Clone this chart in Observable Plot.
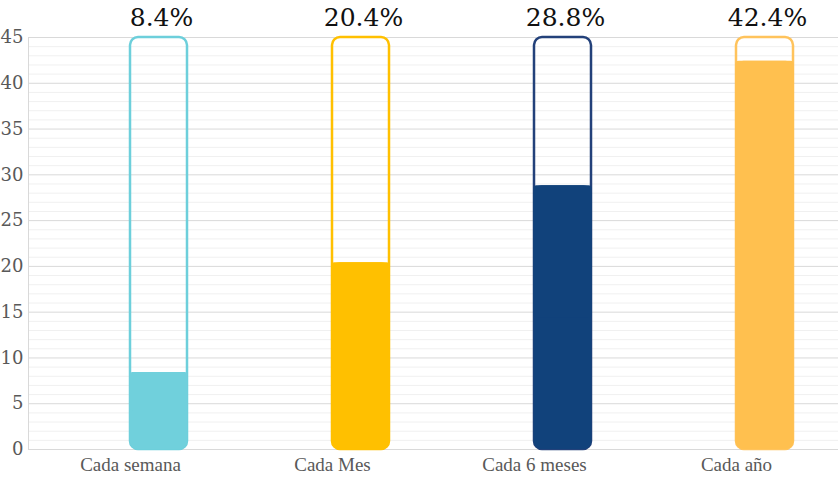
<!DOCTYPE html>
<html>
<head>
<meta charset="utf-8">
<script src="https://cdn.jsdelivr.net/npm/d3@7"></script>
<script src="https://cdn.jsdelivr.net/npm/@observablehq/plot@0.6"></script>
<style>
  html, body { margin: 0; padding: 0; background: #fff; }
  svg text { font-variant: normal !important; }
</style>
</head>
<body>
<div id="chart"></div>
<script>
const categories = ["Cada semana", "Cada Mes", "Cada 6 meses", "Cada año"];
const values = [8.4, 20.4, 28.8, 42.4];
const fills = ["#70d0dc", "#ffc000", "#11427b", "#ffc04f"];
const strokes = ["#6dcfdb", "#ffc000", "#23417a", "#ffc35c"];
const yTicks = [0, 5, 10, 15, 20, 25, 30, 35, 40, 45];
const yMax = 45;

const data = categories.map((c, i) => ({cat: c, value: values[i], fill: fills[i], stroke: strokes[i]}));
const minor = d3.range(0, yMax + 1).filter(v => v % 5 !== 0);

const chart = Plot.plot({
  width: 838,
  height: 478,
  marginTop: 37,
  marginBottom: 29,
  marginLeft: 28,
  marginRight: 0,
  style: {background: "#fff", fontFamily: "Liberation Serif, serif"},
  x: {domain: categories, padding: 0, label: null},
  y: {domain: [0, yMax], label: null},
  marks: [
    Plot.ruleY(minor, {stroke: "#f0f0f0", strokeWidth: 1}),
    Plot.ruleY(yTicks, {stroke: "#d9d9d9", strokeWidth: 1}),
    Plot.frame({anchor: "left", stroke: "#d9d9d9"}),
    Plot.barY(data, {x: "cat", y1: 0, y2: yMax, fill: "none", stroke: d => d.stroke, strokeWidth: 2.5, rx: 8, insetLeft: 72.5, insetRight: 72.5, dx: 28.5}),
    Plot.barY(data, {x: "cat", y1: 0, y2: "value", fill: d => d.fill, rx: 8, insetLeft: 72, insetRight: 72, dx: 28.5}),
    Plot.barY(data, {x: "cat", y1: d => d.value / 2, y2: "value", fill: d => d.fill, rx: 3, insetLeft: 72, insetRight: 72, dx: 28.5}),
    Plot.text(data, {x: "cat", y: yMax, text: d => d.value.toFixed(1) + "%", dy: -20, dx: 31, lineAnchor: "middle", fontSize: 25, fill: "#111", fontFamily: "DejaVu Serif"}),
    Plot.axisY({ticks: yTicks, tickSize: 0, tickPadding: 5, fontSize: 18, fill: "#595959", fontFamily: "DejaVu Serif", tickFormat: d => String(d), label: null}),
    Plot.axisX({tickSize: 0, tickPadding: 8, fontSize: 19, fill: "#595959", fontFamily: "Liberation Serif", label: null})
  ]
});

document.getElementById("chart").appendChild(chart);
</script>
</body>
</html>
